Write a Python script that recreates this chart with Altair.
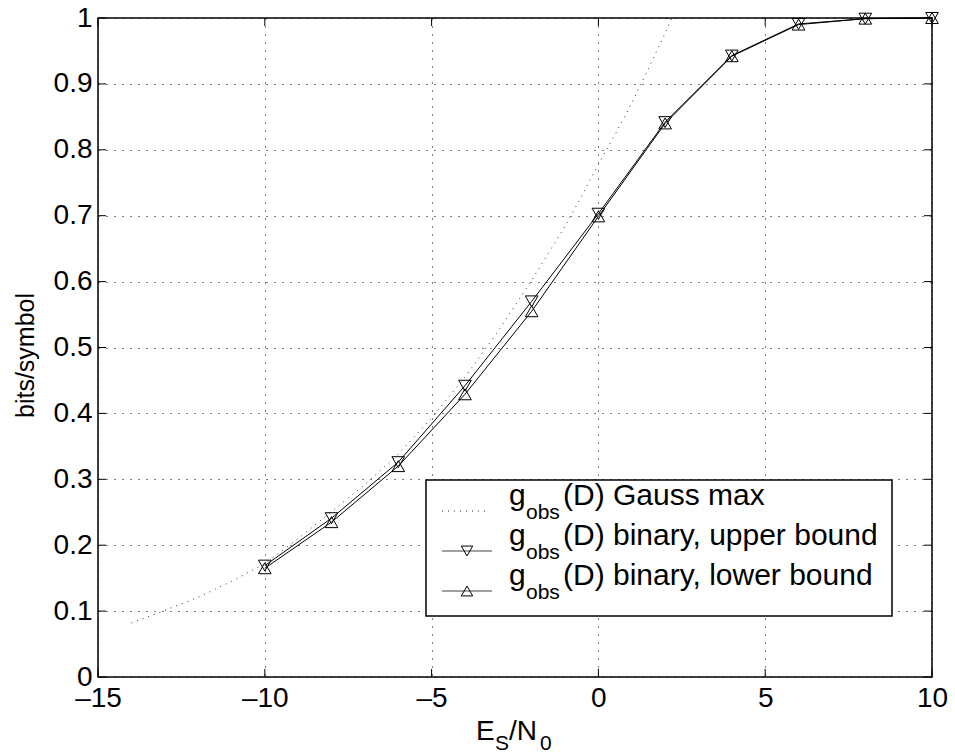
import altair as alt
import pandas as pd

# ---------------- data ----------------
snr = [-10, -8, -6, -4, -2, 0, 2, 4, 6, 8, 10]
upper_bound = [0.169, 0.241, 0.326, 0.442, 0.570, 0.703, 0.842, 0.943, 0.991, 0.999, 1.0]
lower_bound = [0.165, 0.235, 0.320, 0.429, 0.555, 0.699, 0.840, 0.942, 0.990, 0.999, 1.0]

gauss_snr = [-14, -13, -12, -11, -10, -9, -8, -7, -6, -5, -4, -3, -2, -1, -0.5, 0, 0.5, 1, 1.5, 2, 2.2]
gauss_max = [0.082, 0.101, 0.121, 0.145, 0.172, 0.210, 0.251, 0.292, 0.338, 0.393, 0.455, 0.525,
             0.602, 0.684, 0.730, 0.778, 0.823, 0.871, 0.923, 0.977, 1.0]

x_ticks = [-15, -10, -5, 0, 5, 10]
y_ticks = [0, 0.1, 0.2, 0.3, 0.4, 0.5, 0.6, 0.7, 0.8, 0.9, 1]

legend_labels = ["(D) Gauss max", "(D) binary, upper bound", "(D) binary, lower bound"]
legend_sub = "obs"
y_title = "bits/symbol"

FONT = "Liberation Sans"
W, H = 834, 659

df = pd.DataFrame({"snr": snr, "upper": upper_bound, "lower": lower_bound})
gdf = pd.DataFrame({"snr": gauss_snr, "g": gauss_max})
xt = pd.DataFrame({"v": x_ticks})
yt = pd.DataFrame({"v": y_ticks})
one = alt.Data(values=[{}])

xscale = alt.Scale(domain=[-15, 10], nice=False, zero=False)
yscale = alt.Scale(domain=[0, 1], nice=False, zero=False)
xaxis = alt.Axis(values=x_ticks, grid=True, ticks=False, tickSize=0, domain=False, title=None,
                 labelExpr="datum.value < 0 ? '\u2013' + abs(datum.value) : '' + datum.value",
                 labelFontSize=28, labelFont=FONT, labelColor="black", labelFlush=False,
                 labelOverlap=False, labelPadding=7)
yaxis = alt.Axis(values=y_ticks, grid=True, ticks=False, tickSize=0, domain=False, title=None,
                 format="~g", labelFontSize=28, labelFont=FONT, labelColor="black",
                 labelFlush=False, labelOverlap=False, labelPadding=6)


def X(f):
    return alt.X(f, type="quantitative", scale=xscale, axis=xaxis)


def Y(f):
    return alt.Y(f, type="quantitative", scale=yscale, axis=yaxis)


layers = []

# Gauss max dotted curve
layers.append(alt.Chart(gdf).mark_line(color="#333", strokeWidth=1, strokeDash=[1, 5]).encode(
    x=X("snr"), y=Y("g")))

# binary bounds
layers.append(alt.Chart(df).mark_line(color="black", strokeWidth=1).encode(x=X("snr"), y=Y("upper")))
layers.append(alt.Chart(df).mark_line(color="black", strokeWidth=1).encode(x=X("snr"), y=Y("lower")))
layers.append(alt.Chart(df).mark_point(shape="triangle-down", filled=False, size=160, color="black",
                                       strokeWidth=1, opacity=1).encode(x=X("snr"), y=Y("upper")))
layers.append(alt.Chart(df).mark_point(shape="triangle-up", filled=False, size=160, color="black",
                                       strokeWidth=1, opacity=1).encode(x=X("snr"), y=Y("lower")))

# inward ticks on all four sides
TL = 8
layers.append(alt.Chart(xt).mark_rule(color="black", strokeWidth=1).encode(
    x=X("v"), y=alt.value(H), y2=alt.value(H - TL)))
layers.append(alt.Chart(xt).mark_rule(color="black", strokeWidth=1).encode(
    x=X("v"), y=alt.value(0), y2=alt.value(TL)))
layers.append(alt.Chart(yt).mark_rule(color="black", strokeWidth=1).encode(
    y=Y("v"), x=alt.value(0), x2=alt.value(TL)))
layers.append(alt.Chart(yt).mark_rule(color="black", strokeWidth=1).encode(
    y=Y("v"), x=alt.value(W), x2=alt.value(W - TL)))

# ---------------- legend ----------------
LX0, LX1, LY0, LY1 = 328, 794, 462, 598
layers.append(alt.Chart(one).mark_rect(fill="white", stroke="black", strokeWidth=1.5).encode(
    x=alt.value(LX0), x2=alt.value(LX1), y=alt.value(LY0), y2=alt.value(LY1)))

for i, lab in enumerate(legend_labels):
    base = 487 + 40 * i          # text baseline
    ly = base + 6                # symbol line
    if i == 0:
        layers.append(alt.Chart(one).mark_rule(color="#333", strokeWidth=1, strokeDash=[1, 5]).encode(
            x=alt.value(344), x2=alt.value(390), y=alt.value(ly)))
    else:
        layers.append(alt.Chart(one).mark_rule(color="#444", strokeWidth=1).encode(
            x=alt.value(344), x2=alt.value(394), y=alt.value(ly)))
        layers.append(alt.Chart(one).mark_point(
            shape="triangle-down" if i == 1 else "triangle-up", filled=False, size=130,
            color="black", strokeWidth=1, opacity=1).encode(x=alt.value(369), y=alt.value(ly)))
    layers.append(alt.Chart(one).mark_text(text="g", font=FONT, fontSize=30, align="left",
                                           baseline="alphabetic", color="black").encode(
        x=alt.value(411), y=alt.value(base)))
    layers.append(alt.Chart(one).mark_text(text=legend_sub, font=FONT, fontSize=21, align="left",
                                           baseline="alphabetic", color="black").encode(
        x=alt.value(428), y=alt.value(base + 14)))
    layers.append(alt.Chart(one).mark_text(text=lab, font=FONT, fontSize=30, align="left",
                                           baseline="alphabetic", color="black").encode(
        x=alt.value(465), y=alt.value(base)))

# ---------------- axis titles ----------------
layers.append(alt.Chart(one).mark_text(text=y_title, font=FONT, fontSize=25, angle=270, align="center",
                                       baseline="middle", color="black").encode(
    x=alt.value(-72), y=alt.value(H / 2 + 8)))

title_parts = [("E", 378, 0, 28), ("S", 397, 10, 21), ("/N", 411, 0, 28), ("0", 442, 10, 21)]
for txt, px, dy, fs in title_parts:
    layers.append(alt.Chart(one).mark_text(text=txt, font=FONT, fontSize=fs, align="left",
                                           baseline="alphabetic", color="black").encode(
        x=alt.value(px), y=alt.value(722 + dy)))

chart = alt.layer(*layers).properties(
    width=W, height=H,
    padding={"left": 98, "top": 18, "right": 23, "bottom": 76},
    autosize=alt.AutoSizeParams(type="none"),
    background="white",
).configure_view(stroke="black", strokeWidth=1.5).configure_axis(
    gridColor="black", gridDash=[1, 7], gridOpacity=1, gridWidth=1)

chart.save("out.html", embed_options={"renderer": "svg", "actions": False})
